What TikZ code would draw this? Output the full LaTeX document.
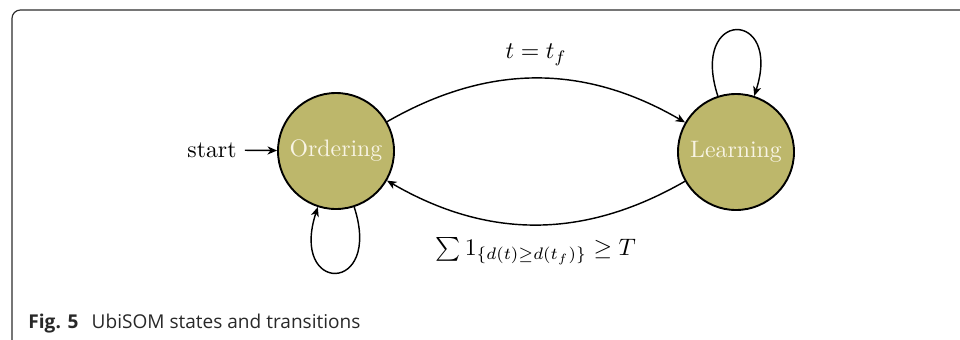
\documentclass[tikz,border=0pt]{standalone}
\usepackage{fontspec}
\newfontfamily\capfont{Open Sans}
\usetikzlibrary{arrows.meta}
\definecolor{statefill}{RGB}{189,183,107}
\definecolor{statetext}{RGB}{248,244,228}
\definecolor{framecol}{RGB}{45,45,45}
\definecolor{captext}{RGB}{40,40,40}
\begin{document}
\begin{tikzpicture}[x=0.42pt,y=0.42pt,
  statebox/.style={circle,draw=black,thick,fill=statefill,text=statetext,minimum size=116*0.42pt,inner sep=0pt},
  trans/.style={-{Stealth[length=4pt,width=3.4pt,inset=1.2pt]},semithick},
  lbl/.style={text=black}]
\useasboundingbox (0,0) rectangle (960,339);
\clip (0,0) rectangle (960,339);
\draw[framecol,line width=0.5pt,rounded corners=3.5pt] (12,-10) -- (12,329) -- (975,329);
\node[statebox] (O) at (336,188) {Ordering};
\node[statebox] (L) at (736,187) {Learning};
\node[lbl] (start) at (212,189) {start};
\draw[trans] (start) -- (O);
\draw[trans] (O) to[bend left=30] node[above,lbl,inner sep=5pt] {$t=t_f$} (L);
\draw[trans] (L) to[bend left=30] node[below,lbl,inner sep=5pt] {$\sum 1_{\{d(t)\geq d(t_f)\}} \geq T$} (O);
\draw[trans] (O.-72) .. controls +(-72:92) and +(-108:92) .. (O.-108);
\draw[trans] (L.108) .. controls +(108:92) and +(72:92) .. (L.72);
\node[anchor=base west,text=captext,font=\capfont\fontsize{8}{10}\selectfont,inner sep=0pt] (cap) at (28,11) {\textbf{Fig. 5}\hspace{0.7em}UbiSOM states and transitions};
\end{tikzpicture}
\end{document}
